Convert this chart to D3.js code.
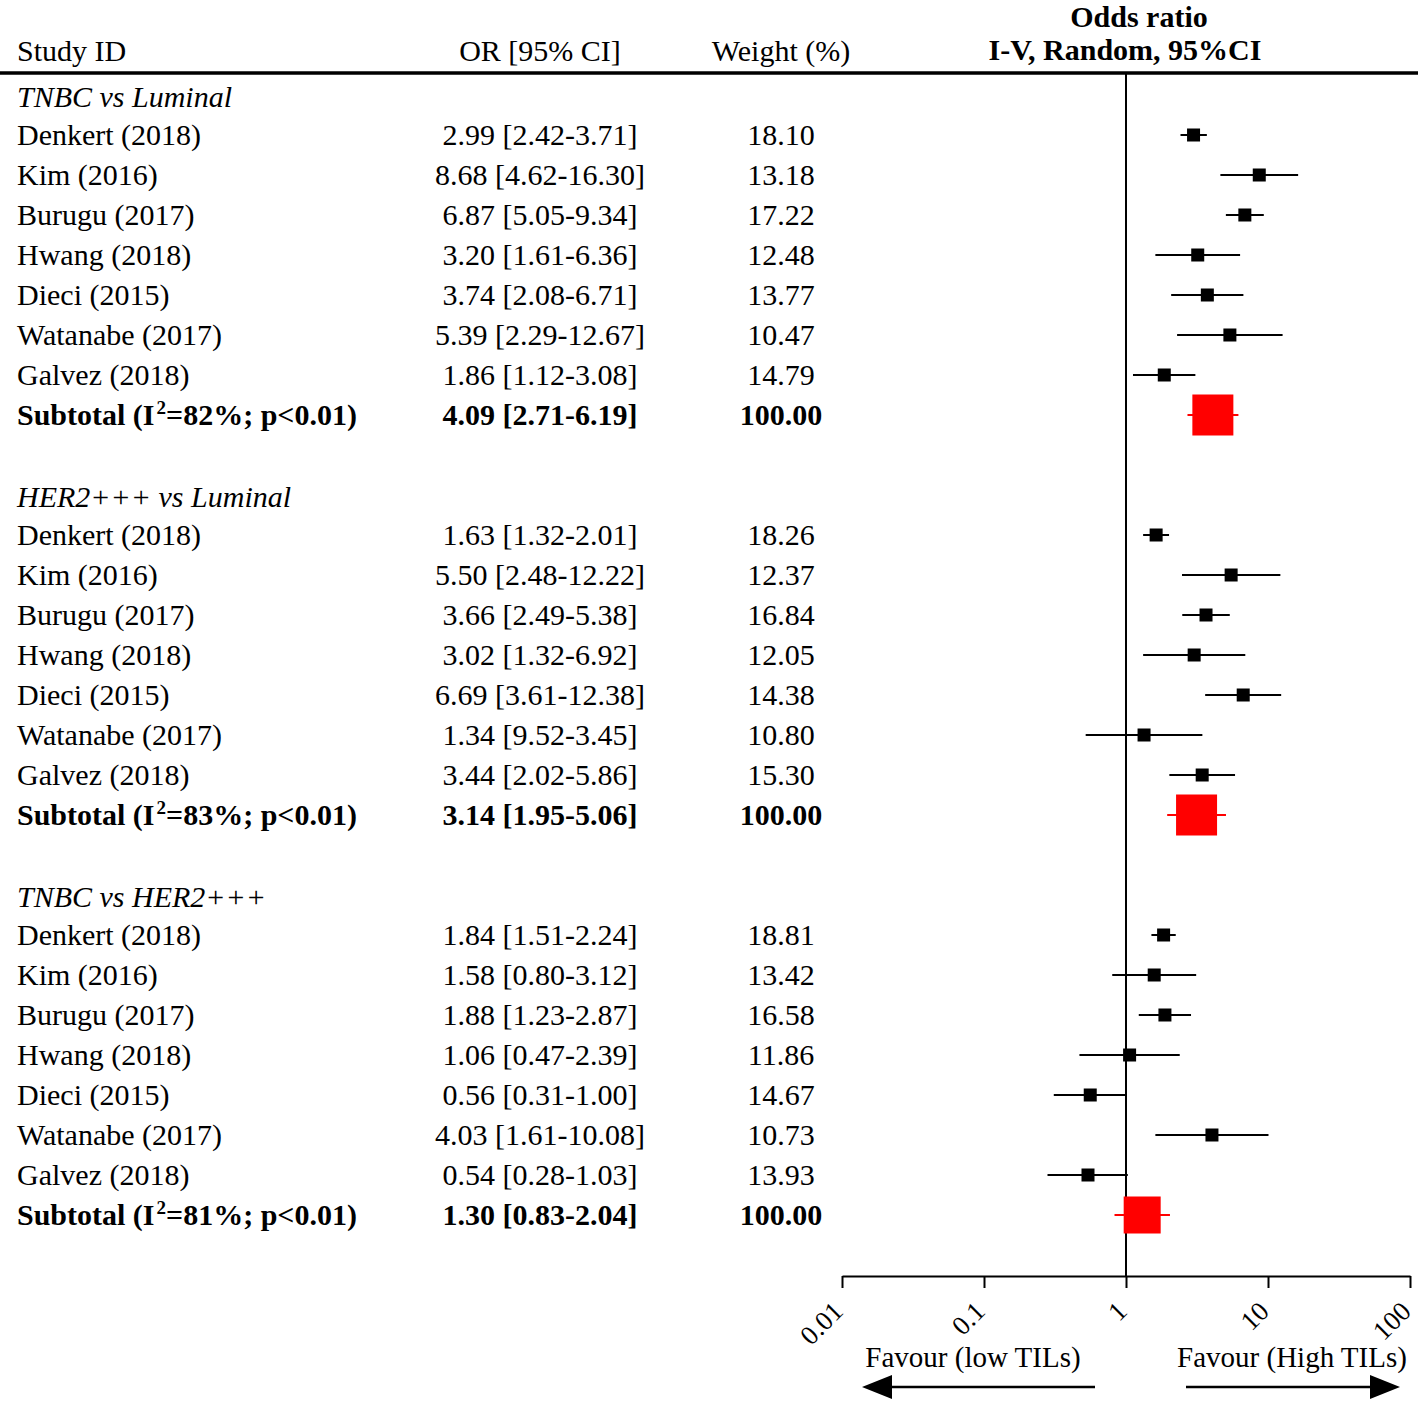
<!DOCTYPE html>
<html>
<head>
<meta charset="utf-8">
<script src="https://cdn.jsdelivr.net/npm/d3@7"></script>
<style>
  html, body { margin: 0; padding: 0; background: #fff; }
  svg { display: block; }
  text { font-family: "Liberation Serif", "Times New Roman", serif; fill: #000; }
</style>
</head>
<body>
<script>
// ---------------- DATA ----------------
const groups = ["TNBC vs Luminal", "HER2+++ vs Luminal", "TNBC vs HER2+++"];
const studies = ["Denkert (2018)", "Kim (2016)", "Burugu (2017)", "Hwang (2018)", "Dieci (2015)", "Watanabe (2017)", "Galvez (2018)"];

const or1 = [2.99, 8.68, 6.87, 3.20, 3.74, 5.39, 1.86];
const lo1 = [2.42, 4.62, 5.05, 1.61, 2.08, 2.29, 1.12];
const hi1 = [3.71, 16.30, 9.34, 6.36, 6.71, 12.67, 3.08];
const w1  = ["18.10", "13.18", "17.22", "12.48", "13.77", "10.47", "14.79"];
const ci1 = ["2.99 [2.42-3.71]", "8.68 [4.62-16.30]", "6.87 [5.05-9.34]", "3.20 [1.61-6.36]", "3.74 [2.08-6.71]", "5.39 [2.29-12.67]", "1.86 [1.12-3.08]"];

const or2 = [1.63, 5.50, 3.66, 3.02, 6.69, 1.34, 3.44];
const lo2 = [1.32, 2.48, 2.49, 1.32, 3.61, 0.52, 2.02];
const hi2 = [2.01, 12.22, 5.38, 6.92, 12.38, 3.45, 5.86];
const w2  = ["18.26", "12.37", "16.84", "12.05", "14.38", "10.80", "15.30"];
const ci2 = ["1.63 [1.32-2.01]", "5.50 [2.48-12.22]", "3.66 [2.49-5.38]", "3.02 [1.32-6.92]", "6.69 [3.61-12.38]", "1.34 [9.52-3.45]", "3.44 [2.02-5.86]"];

const or3 = [1.84, 1.58, 1.88, 1.06, 0.56, 4.03, 0.54];
const lo3 = [1.51, 0.80, 1.23, 0.47, 0.31, 1.61, 0.28];
const hi3 = [2.24, 3.12, 2.87, 2.39, 1.00, 10.08, 1.03];
const w3  = ["18.81", "13.42", "16.58", "11.86", "14.67", "10.73", "13.93"];
const ci3 = ["1.84 [1.51-2.24]", "1.58 [0.80-3.12]", "1.88 [1.23-2.87]", "1.06 [0.47-2.39]", "0.56 [0.31-1.00]", "4.03 [1.61-10.08]", "0.54 [0.28-1.03]"];

const subOR = [4.09, 3.14, 1.30];
const subLo = [2.71, 1.95, 0.83];
const subHi = [6.19, 5.06, 2.04];
const subI2 = ["82", "83", "81"];
const subCI = ["4.09 [2.71-6.19]", "3.14 [1.95-5.06]", "1.30 [0.83-2.04]"];
const subW  = "100.00";

const tickValues = [0.01, 0.1, 1, 10, 100];
const tickLabels = ["0.01", "0.1", "1", "10", "100"];

// ---------------- LAYOUT ----------------
const W = 1418, H = 1401;
const svg = d3.select("body").append("svg").attr("width", W).attr("height", H);

const x = d3.scaleLog().domain([0.01, 100]).range([842, 1410]);
const rowY = i => 95 + 40 * i;
const FS = 30;
const colStudy = 17, colCI = 540, colW = 781;
const axisY = 1276;

const G = [
  {or: or1, lo: lo1, hi: hi1, w: w1, ci: ci1},
  {or: or2, lo: lo2, hi: hi2, w: w2, ci: ci2},
  {or: or3, lo: lo3, hi: hi3, w: w3, ci: ci3}
];

// header
svg.append("text").attr("x", colStudy).attr("y", 61).attr("font-size", FS).text("Study ID");
svg.append("text").attr("x", colCI).attr("y", 61).attr("font-size", FS).attr("text-anchor", "middle").text("OR [95% CI]");
svg.append("text").attr("x", colW).attr("y", 61).attr("font-size", FS).attr("text-anchor", "middle").text("Weight (%)");
svg.append("text").attr("x", 1139).attr("y", 27).attr("font-size", FS).attr("font-weight", "bold").attr("text-anchor", "middle").text("Odds ratio");
svg.append("text").attr("x", 1125).attr("y", 60).attr("font-size", FS).attr("font-weight", "bold").attr("text-anchor", "middle").text("I-V, Random, 95%CI");

svg.append("line").attr("x1", 0).attr("x2", W).attr("y1", 73).attr("y2", 73)
  .attr("stroke", "#000").attr("stroke-width", 3.5);

// null line
svg.append("line").attr("x1", x(1)).attr("x2", x(1)).attr("y1", 73).attr("y2", axisY)
  .attr("stroke", "#000").attr("stroke-width", 2);

G.forEach((g, gi) => {
  const base = gi * 10;
  svg.append("text").attr("x", colStudy).attr("y", rowY(base) + 12).attr("font-size", FS)
    .attr("font-style", "italic").text(groups[gi]);

  studies.forEach((s, si) => {
    const yc = rowY(base + 1 + si);
    svg.append("text").attr("x", colStudy).attr("y", yc + 10).attr("font-size", FS).text(s);
    svg.append("text").attr("x", colCI).attr("y", yc + 10).attr("font-size", FS).attr("text-anchor", "middle").text(g.ci[si]);
    svg.append("text").attr("x", colW).attr("y", yc + 10).attr("font-size", FS).attr("text-anchor", "middle").text(g.w[si]);
    svg.append("line").attr("x1", x(g.lo[si])).attr("x2", x(g.hi[si])).attr("y1", yc).attr("y2", yc)
      .attr("stroke", "#000").attr("stroke-width", 2);
    const sz = 13;
    svg.append("rect").attr("x", x(g.or[si]) - sz / 2).attr("y", yc - sz / 2)
      .attr("width", sz).attr("height", sz).attr("fill", "#000");
  });

  // subtotal
  const ys = rowY(base + 8);
  const t = svg.append("text").attr("x", colStudy).attr("y", ys + 10).attr("font-size", FS).attr("font-weight", "bold");
  t.append("tspan").text("Subtotal (I");
  t.append("tspan").attr("font-size", 19).attr("dy", -11).attr("dx", 2).text("2");
  t.append("tspan").attr("dy", 11).text("=" + subI2[gi] + "%; p<0.01)");
  svg.append("text").attr("x", colCI).attr("y", ys + 10).attr("font-size", FS).attr("font-weight", "bold")
    .attr("text-anchor", "middle").text(subCI[gi]);
  svg.append("text").attr("x", colW).attr("y", ys + 10).attr("font-size", FS).attr("font-weight", "bold")
    .attr("text-anchor", "middle").text(subW);
  svg.append("line").attr("x1", x(subLo[gi])).attr("x2", x(subHi[gi])).attr("y1", ys).attr("y2", ys)
    .attr("stroke", "#ff0000").attr("stroke-width", 2);
  const bs = gi === 2 ? 37 : 41;
  svg.append("rect").attr("x", x(subOR[gi]) - bs / 2).attr("y", ys - bs / 2)
    .attr("width", bs).attr("height", bs).attr("fill", "#ff0000");
});

// axis
const axis = d3.axisBottom(x).tickValues(tickValues).tickFormat((d, i) => tickLabels[i]).tickSize(12).tickSizeOuter(0);
const ag = svg.append("g").attr("transform", `translate(0,${axisY})`).call(axis);
ag.select(".domain").attr("stroke", "#000").attr("stroke-width", 2);
ag.selectAll(".tick line").attr("stroke", "#000").attr("stroke-width", 2);
ag.selectAll(".tick text")
  .attr("font-family", "Liberation Serif, serif").attr("font-size", 27).attr("fill", "#000")
  .attr("text-anchor", "end").attr("dy", null).attr("y", 0).attr("x", 0)
  .attr("transform", "translate(2,37) rotate(-45)");

// favour labels
svg.append("text").attr("x", 973).attr("y", 1367).attr("font-size", 29).attr("text-anchor", "middle").text("Favour (low TILs)");
svg.append("text").attr("x", 1292).attr("y", 1367).attr("font-size", 29).attr("text-anchor", "middle").text("Favour (High TILs)");

// arrows
const ay = 1387;
svg.append("line").attr("x1", 1095).attr("x2", 885).attr("y1", ay).attr("y2", ay).attr("stroke", "#000").attr("stroke-width", 2.5);
svg.append("path").attr("d", `M862,${ay} L892,${ay - 12} L892,${ay + 12} Z`).attr("fill", "#000");
svg.append("line").attr("x1", 1186).attr("x2", 1375).attr("y1", ay).attr("y2", ay).attr("stroke", "#000").attr("stroke-width", 2.5);
svg.append("path").attr("d", `M1400,${ay} L1370,${ay - 12} L1370,${ay + 12} Z`).attr("fill", "#000");
</script>
</body>
</html>
